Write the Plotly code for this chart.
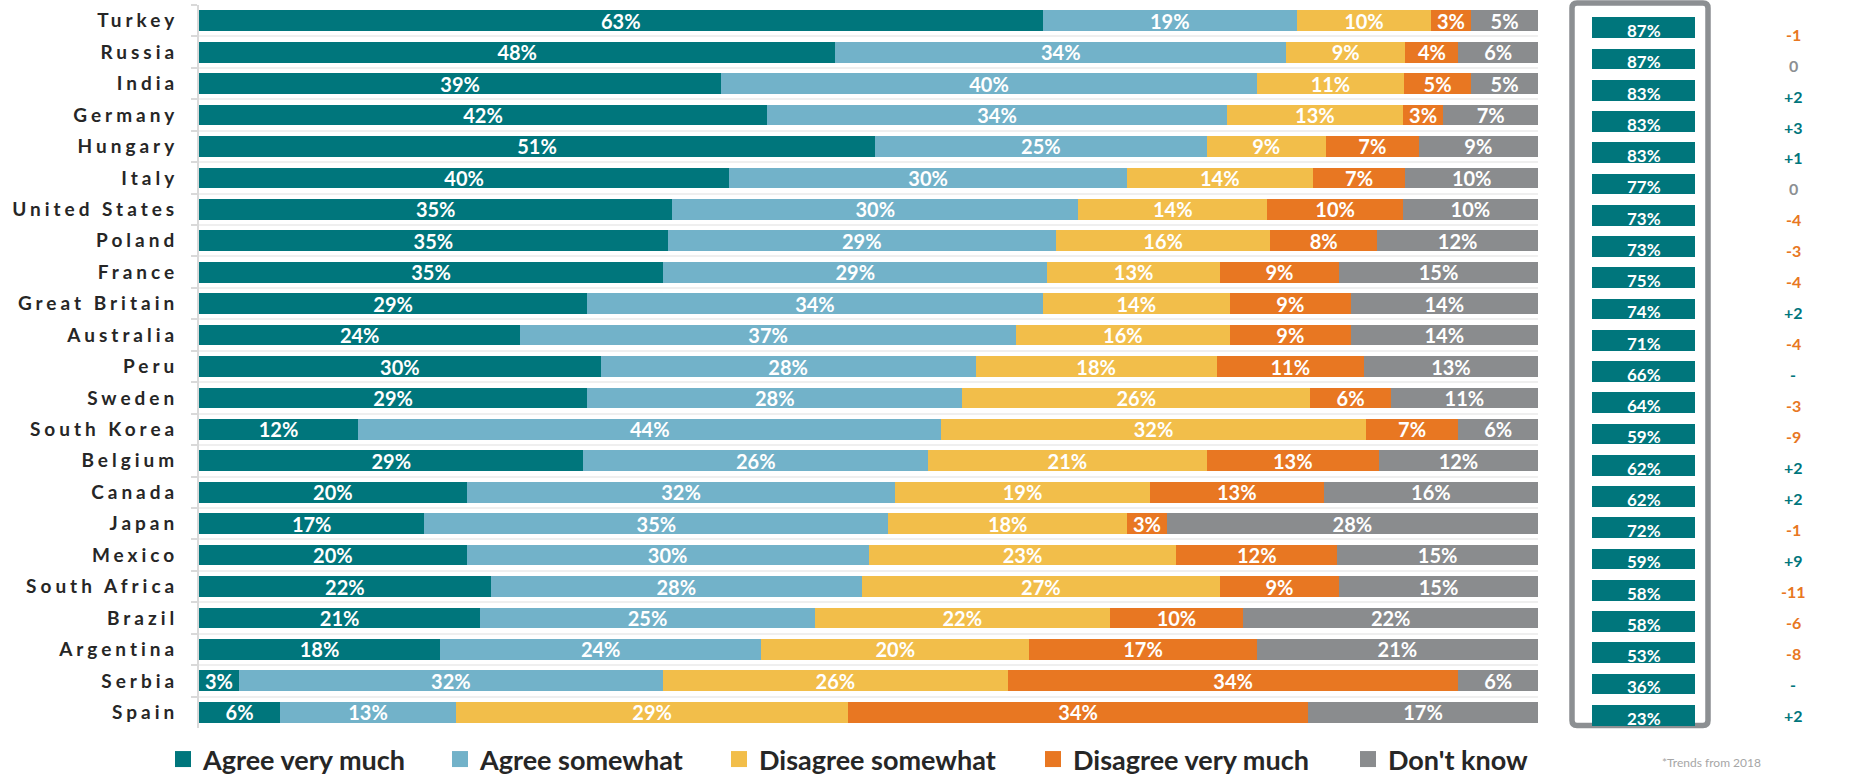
import plotly.graph_objects as go

countries = ["Turkey", "Russia", "India", "Germany", "Hungary", "Italy", "United States",
             "Poland", "France", "Great Britain", "Australia", "Peru", "Sweden", "South Korea",
             "Belgium", "Canada", "Japan", "Mexico", "South Africa", "Brazil", "Argentina",
             "Serbia", "Spain"]

agree_very_much = [63, 48, 39, 42, 51, 40, 35, 35, 35, 29, 24, 30, 29, 12, 29, 20, 17, 20, 22, 21, 18, 3, 6]
agree_somewhat = [19, 34, 40, 34, 25, 30, 30, 29, 29, 34, 37, 28, 28, 44, 26, 32, 35, 30, 28, 25, 24, 32, 13]
disagree_somewhat = [10, 9, 11, 13, 9, 14, 14, 16, 13, 14, 16, 18, 26, 32, 21, 19, 18, 23, 27, 22, 20, 26, 29]
disagree_very_much = [3, 4, 5, 3, 7, 7, 10, 8, 9, 9, 9, 11, 6, 7, 13, 13, 3, 12, 9, 10, 17, 34, 34]
dont_know = [5, 6, 5, 7, 9, 10, 10, 12, 15, 14, 14, 13, 11, 6, 12, 16, 28, 15, 15, 22, 21, 6, 17]

total_agree = [87, 87, 83, 83, 83, 77, 73, 73, 75, 74, 71, 66, 64, 59, 62, 62, 72, 59, 58, 58, 53, 36, 23]
change = ["-1", "0", "+2", "+3", "+1", "0", "-4", "-3", "-4", "+2", "-4", "-", "-3", "-9",
          "+2", "+2", "-1", "+9", "-11", "-6", "-8", "-", "+2"]

series_names = ["Agree very much", "Agree somewhat", "Disagree somewhat", "Disagree very much", "Don't know"]
series_values = [agree_very_much, agree_somewhat, disagree_somewhat, disagree_very_much, dont_know]
series_colors = ["#00767c", "#72b2c9", "#f2be4a", "#e87722", "#8a8c8e"]

footnote = "*Trends from 2018"

TEAL = "#00767c"
ORANGE = "#e87722"
GREY = "#8c8f92"

W, H = 1855, 784
MT, MB = 5, 47
PH = H - MT - MB
N = len(countries)


def px_x(p):
    return p / W


def px_y(p):
    return 1 - (p - MT) / PH


def cat_range(top_px, first_center_px, spacing):
    # reversed category range for an axis whose domain runs from top_px to the plot bottom
    span = (MT + PH - top_px) / spacing
    start = -0.5 + (top_px - (first_center_px - spacing / 2)) / spacing
    return [start + span, start]


fig = go.Figure()

legend_centers = [186, 463, 742, 1056, 1371]
legend_keys = ["legend", "legend2", "legend3", "legend4", "legend5"]

for name, vals, col, lk in zip(series_names, series_values, series_colors, legend_keys):
    fig.add_trace(go.Bar(
        name=name, y=countries, x=vals, orientation="h",
        marker=dict(color=col, line=dict(width=0)),
        text=vals, texttemplate="%{text}%", textposition="inside",
        insidetextanchor="middle", textangle=0, constraintext="none",
        textfont=dict(family="Lato", size=20, color="white", weight="bold"),
        showlegend=False, legendgroup=name, xaxis="x", yaxis="y",
    ))
    # legend entry with a larger square swatch
    fig.add_trace(go.Scatter(
        name=name, x=[None], y=[None], mode="markers",
        marker=dict(symbol="square", size=16, color=col),
        legend=lk, legendgroup=name, showlegend=True, xaxis="x", yaxis="y",
    ))

# total-agree column bars (fixed length label boxes)
fig.add_trace(go.Bar(
    y=countries, x=[100] * N, orientation="h",
    marker=dict(color=TEAL, line=dict(width=0)),
    showlegend=False, xaxis="x2", yaxis="y2", hoverinfo="skip",
))

annotations = []
for c, v in zip(countries, total_agree):
    annotations.append(dict(
        x=50, y=c, xref="x2", yref="y2", text=f"{v}%", showarrow=False,
        yshift=-3, font=dict(family="Lato", size=17, color="white", weight="bold"),
    ))


def change_color(s):
    if s.startswith("-") and len(s) > 1:
        return ORANGE
    if s == "0":
        return GREY
    return TEAL


for c, s in zip(countries, change):
    annotations.append(dict(
        x=100 * (1793 - 1720) / (1850 - 1720), y=c, xref="x3", yref="y3", text=s,
        showarrow=False,
        font=dict(family="Lato", size=16, color=change_color(s), weight="bold"),
    ))

annotations.append(dict(
    x=px_x(1660), y=px_y(782), xref="paper", yref="paper", xanchor="left", yanchor="bottom",
    text=footnote, showarrow=False,
    font=dict(family="Lato", size=12, color="#a6a6a6"),
))

# rounded box around the total column
x0, x1, y0, y1, r = 1572, 1708, 3, 734.5, 5
path = (f"M {px_x(x0 + r)},{px_y(y0)} L {px_x(x1 - r)},{px_y(y0)} "
        f"Q {px_x(x1)},{px_y(y0)} {px_x(x1)},{px_y(y0 + r)} "
        f"L {px_x(x1)},{px_y(y1 - r)} Q {px_x(x1)},{px_y(y1)} {px_x(x1 - r)},{px_y(y1)} "
        f"L {px_x(x0 + r)},{px_y(y1)} Q {px_x(x0)},{px_y(y1)} {px_x(x0)},{px_y(y1 - r)} "
        f"L {px_x(x0)},{px_y(y0 + r)} Q {px_x(x0)},{px_y(y0)} {px_x(x0 + r)},{px_y(y0)} Z")

hidden_cat = dict(type="category", categoryorder="array", categoryarray=countries,
                  showgrid=False, showline=False, showticklabels=False, ticks="",
                  zeroline=False)
hidden_lin = dict(range=[0, 100], showgrid=False, zeroline=False, showticklabels=False,
                  showline=False, ticks="")

layout = dict(
    width=W, height=H,
    margin=dict(l=0, r=0, t=MT, b=MB),
    paper_bgcolor="white", plot_bgcolor="rgba(0,0,0,0)",
    barmode="stack", barnorm="percent", bargap=0.34,
    font=dict(family="Lato", color="#262626"),
    xaxis=dict(hidden_lin, domain=[px_x(199), px_x(1538)]),
    xaxis2=dict(hidden_lin, domain=[px_x(1592), px_x(1695)], anchor="y2"),
    xaxis3=dict(hidden_lin, domain=[px_x(1720), px_x(1850)], anchor="y3"),
    yaxis=dict(type="category", categoryorder="array", categoryarray=countries,
               range=[N - 0.5, -0.5], tickson="boundaries",
               showgrid=True, gridcolor="#efefef", gridwidth=2,
               showline=True, linecolor="#d9d9d9", linewidth=2,
               ticks="outside", ticklen=6, tickcolor="#d9d9d9", tickwidth=2,
               ticklabelstandoff=15, automargin=False,
               tickfont=dict(family="Lato", size=19, color="#262626", weight="bold")),
    yaxis2=dict(hidden_cat, domain=[0, px_y(12.2)], anchor="x2",
                range=cat_range(12.2, 28, 31.64)),
    yaxis3=dict(hidden_cat, domain=[0, px_y(18.8)], anchor="x3",
                range=cat_range(18.8, 34.5, 31.34)),
    annotations=annotations,
    shapes=[dict(type="path", path=path, xref="paper", yref="paper",
                 line=dict(color=GREY, width=5.5), fillcolor="rgba(0,0,0,0)", layer="below")],
    showlegend=True,
)

for lk, cx in zip(legend_keys, legend_centers):
    layout[lk] = dict(
        x=px_x(cx - 23), y=px_y(769), xanchor="left", yanchor="middle",
        orientation="h", bgcolor="rgba(0,0,0,0)", borderwidth=0,
        font=dict(family="Lato", size=27, color="#262626", weight="bold"),
    )

fig.update_layout(**layout)

post = ("var s=document.createElement('style');"
        "s.textContent='body{margin:0;} .yaxislayer-above .ytick text{letter-spacing:4px;}';"
        "document.head.appendChild(s);")

fig.write_html("out.html", post_script=post, config={"displayModeBar": False})
